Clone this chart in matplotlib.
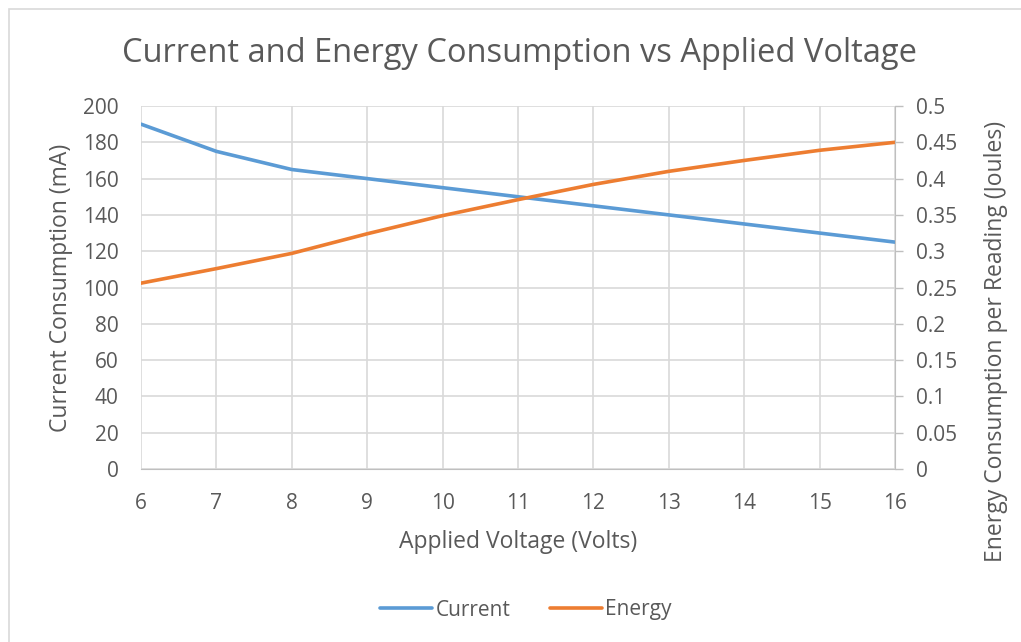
import matplotlib.pyplot as plt
from matplotlib.patches import Rectangle

voltage = [6, 7, 8, 9, 10, 11, 12, 13, 14, 15, 16]
current = [190, 175, 165, 160, 155, 150, 145, 140, 135, 130, 125]
energy = [0.256, 0.276, 0.297, 0.324, 0.349, 0.371, 0.392, 0.410, 0.425, 0.439, 0.450]

plt.rcParams['font.family'] = ['Open Sans', 'DejaVu Sans']
txt = '#595959'
grid = '#d9d9d9'

fig = plt.figure(figsize=(10.21, 6.42), dpi=100)
fig.patches.append(Rectangle((9 / 1021, -0.01), 1.0, 1 - 9 / 642 + 0.01, transform=fig.transFigure,
                             fill=False, edgecolor='#d9d9d9', linewidth=1.2))

ax = fig.add_axes([141 / 1021, 1 - 469 / 642, (895 - 141) / 1021, (469 - 106) / 642])
ax2 = ax.twinx()

l1, = ax.plot(voltage, current, color='#5b9bd5', linewidth=2.6, label='Current', solid_capstyle='round')
l2, = ax2.plot(voltage, energy, color='#ed7d31', linewidth=2.6, label='Energy', solid_capstyle='round')

ax.set_xlim(6, 16)
ax.set_ylim(0, 200)
ax2.set_ylim(0, 0.5)
ax.set_xticks(voltage)
ax.set_yticks(range(0, 201, 20))
ax2.set_yticks([i * 0.05 for i in range(11)])
ax2.set_yticklabels(['0', '0.05', '0.1', '0.15', '0.2', '0.25', '0.3', '0.35', '0.4', '0.45', '0.5'])

ax.grid(True, color=grid, linewidth=1.2)
ax.set_axisbelow(True)
for a in (ax, ax2):
    for s in a.spines.values():
        s.set_visible(False)
ax.spines['bottom'].set_visible(True)
ax.spines['bottom'].set_color('#bfbfbf')
ax2.spines['right'].set_visible(True)
ax2.spines['right'].set_color('#bfbfbf')

ax.tick_params(axis='x', length=0, pad=17, labelsize=15, colors=txt)
ax.tick_params(axis='y', length=0, pad=16, labelsize=15, colors=txt)
ax2.tick_params(axis='y', length=6, width=1, color='#bfbfbf', pad=9, labelsize=15, labelcolor=txt)

ax.set_xlabel('Applied Voltage (Volts)', fontsize=16.5, color=txt, labelpad=12)
ax.set_ylabel('Current Consumption (mA)', fontsize=16.5, color=txt, labelpad=7)
ax2.set_ylabel('Energy Consumption per Reading (Joules)', fontsize=16.5, color=txt, labelpad=14)
ax2.yaxis.set_label_coords(1.118, (469 - 341) / 363)

fig.text(520 / 1021, 1 - 54 / 642, 'Current and Energy Consumption vs Applied Voltage',
         ha='center', va='center', fontsize=23.5, color=txt)

fig.legend([l1, l2], ['Current', 'Energy'], loc='center', bbox_to_anchor=(526 / 1021, 1 - 610 / 642),
           ncol=2, frameon=False, fontsize=15, labelcolor=txt, handlelength=2.5,
           handletextpad=0.15, columnspacing=1.9)

fig.savefig('out.png', dpi=100)
